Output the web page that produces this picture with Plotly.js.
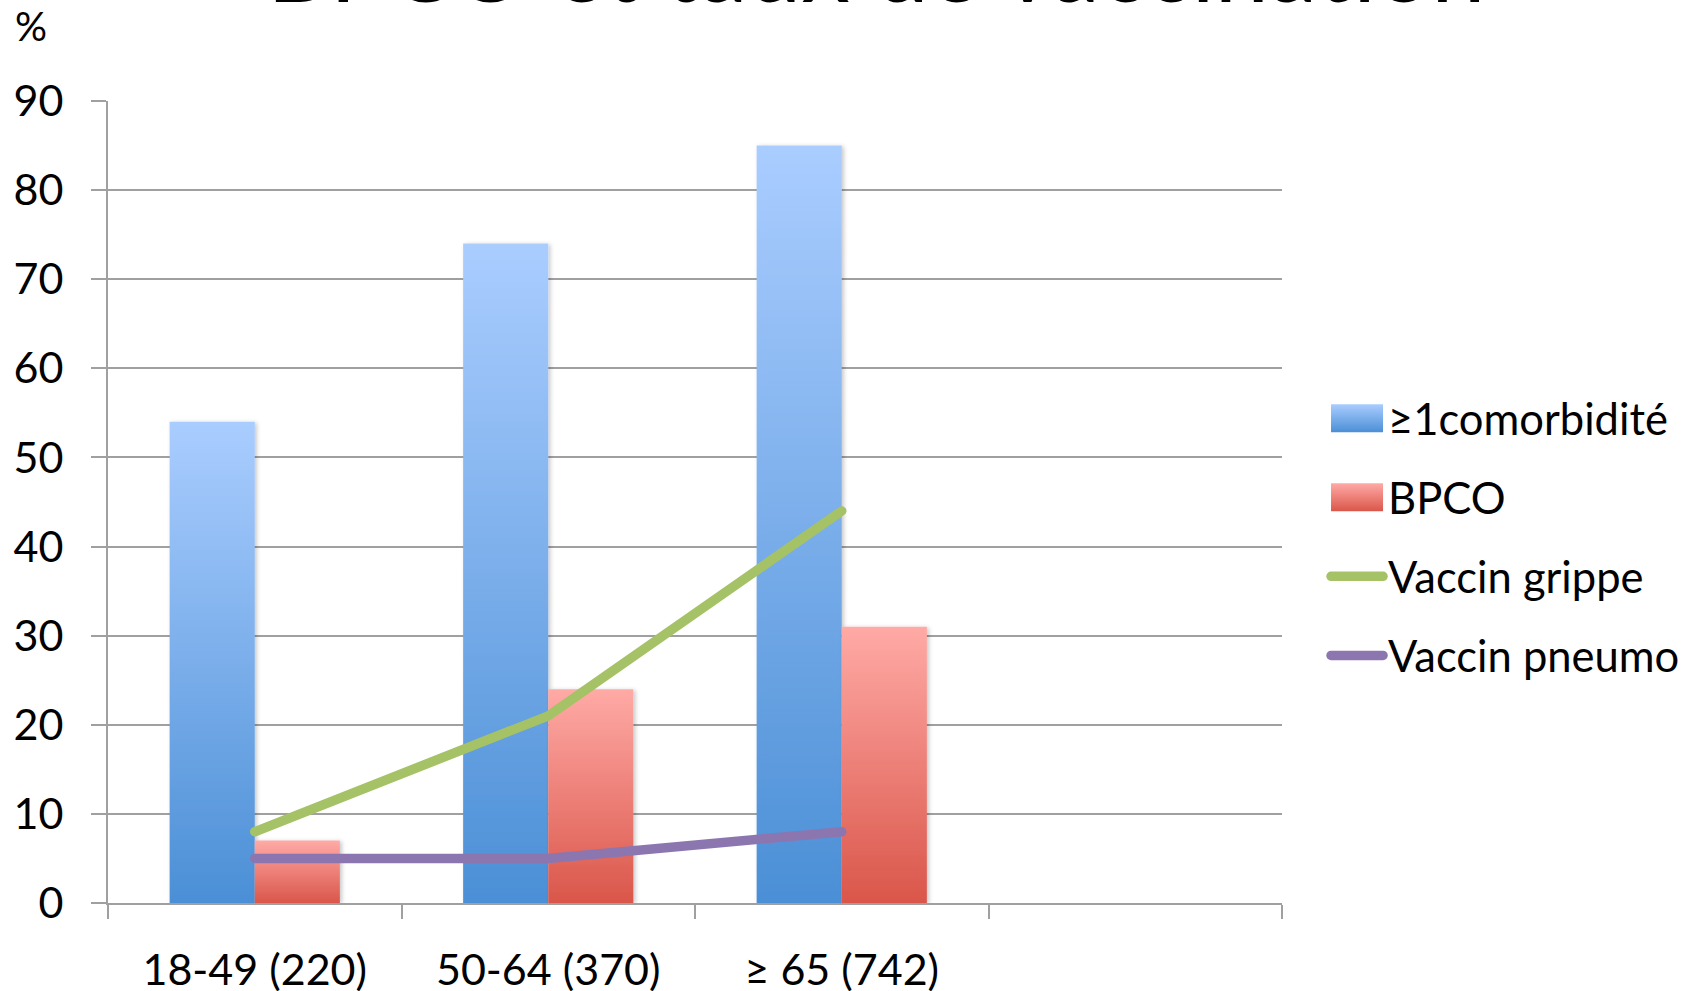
<!DOCTYPE html>
<html>
<head>
<meta charset="utf-8">
<script src="https://cdn.plot.ly/plotly-3.0.1.min.js"></script>
<style>
  html, body { margin: 0; padding: 0; background: #ffffff; }
  #chart { width: 1699px; height: 991px; }
</style>
</head>
<body>
<div id="chart"></div>
<script>
// Age groups (number of patients) and the percentages per group
const ageGroups = ['18-49 (220)', '50-64 (370)', '\u2265 65 (742)'];
const comorbidite = [54, 74, 85];
const bpco = [7, 24, 31];
const vaccinGrippe = [8, 21, 44];
const vaccinPneumo = [5, 5, 8];
const yTickValues = [0, 10, 20, 30, 40, 50, 60, 70, 80, 90];
const seriesNames = ['\u22651comorbidit\u00e9', 'BPCO', 'Vaccin grippe', 'Vaccin pneumo'];
const chartTitle = 'BPCO et taux de vaccination';
const unitLabel = '%';

const FONT = 'Lato, Carlito, "Liberation Sans", sans-serif';
const xPos = ageGroups.map((_, i) => i);

const data = [
  {
    type: 'bar', name: seriesNames[0], x: xPos, y: comorbidite,
    marker: { color: '#6fa5e3' }, legendgroup: 'g1', hoverinfo: 'skip'
  },
  {
    type: 'bar', name: seriesNames[1], x: xPos, y: bpco,
    marker: { color: '#ee8a82' }, legendgroup: 'g2', hoverinfo: 'skip'
  },
  {
    type: 'scatter', mode: 'lines', name: seriesNames[2], x: xPos, y: vaccinGrippe,
    line: { color: '#a5c266', width: 9.5 }, legendgroup: 'g3', hoverinfo: 'skip'
  },
  {
    type: 'scatter', mode: 'lines', name: seriesNames[3], x: xPos, y: vaccinPneumo,
    line: { color: '#8c76b0', width: 9.5 }, legendgroup: 'g4', hoverinfo: 'skip'
  }
];

const layout = {
  width: 1699,
  height: 991,
  paper_bgcolor: '#ffffff',
  plot_bgcolor: '#ffffff',
  font: { family: FONT, size: 43, color: '#000000' },
  margin: { l: 108, r: 417, t: 101, b: 88 },
  barmode: 'group',
  bargap: 0.42,
  bargroupgap: 0,
  showlegend: true,
  legend: {
    x: 1.0375, xanchor: 'left',
    y: 0.6478, yanchor: 'top',
    font: { family: FONT, size: 43.5, color: '#000000' },
    itemwidth: 52,
    tracegroupgap: 19.5,
    traceorder: 'grouped',
    bgcolor: 'rgba(0,0,0,0)'
  },
  xaxis: {
    range: [-0.5, 3.5],
    tickmode: 'array',
    tickvals: xPos,
    ticktext: ageGroups,
    ticks: '',
    ticklabelstandoff: 28,
    showgrid: false,
    zeroline: false,
    showline: true,
    linecolor: '#a0a0a0',
    linewidth: 2,
    tickfont: { family: FONT, size: 43, color: '#000000' },
    minor: { tick0: -0.5, dtick: 1, ticks: 'outside', ticklen: 14, tickwidth: 2, tickcolor: '#a0a0a0', showgrid: false },
    fixedrange: true
  },
  yaxis: {
    range: [0, 90],
    tickmode: 'array',
    tickvals: yTickValues,
    ticktext: yTickValues.map(String),
    ticks: 'outside',
    ticklen: 15,
    tickwidth: 2,
    tickcolor: '#a0a0a0',
    ticklabelstandoff: 19,
    showgrid: true,
    gridcolor: '#a0a0a0',
    gridwidth: 2,
    zeroline: false,
    showline: true,
    linecolor: '#a0a0a0',
    linewidth: 2,
    tickfont: { family: FONT, size: 43, color: '#000000' },
    fixedrange: true
  },
  annotations: [
    {
      text: chartTitle, xref: 'paper', yref: 'paper',
      x: 0.654, xanchor: 'center', y: 1.0945, yanchor: 'bottom',
      showarrow: false, font: { family: FONT, size: 97, color: '#000000' }
    },
    {
      text: unitLabel, xref: 'paper', yref: 'paper',
      x: -0.0656, xanchor: 'center', y: 1.0935, yanchor: 'middle',
      showarrow: false, font: { family: FONT, size: 40, color: '#000000' }
    }
  ]
};

// Vertical gradients for the bar fills (light at the top, darker at the base)
const gradients = {
  0: { id: 'gradBlue', top: '#aacdff', bottom: '#4b8fd6' },
  1: { id: 'gradRed', top: '#ffaaa6', bottom: '#da564a' }
};

function addDefs(svg) {
  const ns = 'http://www.w3.org/2000/svg';
  let defs = svg.querySelector('defs');
  if (!defs) { defs = document.createElementNS(ns, 'defs'); svg.insertBefore(defs, svg.firstChild); }
  Object.values(gradients).forEach(g => {
    const lg = document.createElementNS(ns, 'linearGradient');
    lg.setAttribute('id', g.id);
    lg.setAttribute('x1', '0'); lg.setAttribute('y1', '0');
    lg.setAttribute('x2', '0'); lg.setAttribute('y2', '1');
    [[0, g.top], [1, g.bottom]].forEach(([o, c]) => {
      const s = document.createElementNS(ns, 'stop');
      s.setAttribute('offset', o);
      s.setAttribute('stop-color', c);
      lg.appendChild(s);
    });
    defs.appendChild(lg);
  });
  const f = document.createElementNS(ns, 'filter');
  f.setAttribute('id', 'barShadow');
  f.setAttribute('x', '-10%'); f.setAttribute('y', '-10%');
  f.setAttribute('width', '130%'); f.setAttribute('height', '130%');
  const ds = document.createElementNS(ns, 'feDropShadow');
  ds.setAttribute('dx', '2'); ds.setAttribute('dy', '1');
  ds.setAttribute('stdDeviation', '2');
  ds.setAttribute('flood-color', '#000'); ds.setAttribute('flood-opacity', '0.22');
  f.appendChild(ds);
  defs.appendChild(f);
}

Plotly.newPlot('chart', data, layout, { staticPlot: true, displayModeBar: false }).then(gd => {
  const svg = gd.querySelector('svg.main-svg');
  addDefs(svg);

  gd.querySelectorAll('.barlayer .trace').forEach(tr => {
    const idx = tr.__data__[0].trace.index;
    const g = gradients[idx];
    if (!g) return;
    tr.querySelectorAll('path').forEach(p => {
      p.style.fill = 'url(#' + g.id + ')';
      p.style.filter = 'url(#barShadow)';
    });
  });

  gd.querySelectorAll('.scatterlayer .js-line').forEach(p => {
    p.style.strokeLinecap = 'round';
    p.style.strokeLinejoin = 'round';
  });

  gd.querySelectorAll('.legend .traces').forEach(tr => {
    const idx = tr.__data__[0].trace.index;
    const g = gradients[idx];
    if (g) {
      tr.querySelectorAll('.legendpoints path').forEach(p => {
        p.setAttribute('d', 'M-26,-14H26V14H-26Z');
        p.style.fill = 'url(#' + g.id + ')';
        p.style.stroke = 'none';
      });
    } else {
      tr.querySelectorAll('.legendlines path').forEach(p => {
        p.style.strokeLinecap = 'round';
      });
    }
  });
});
</script>
</body>
</html>
